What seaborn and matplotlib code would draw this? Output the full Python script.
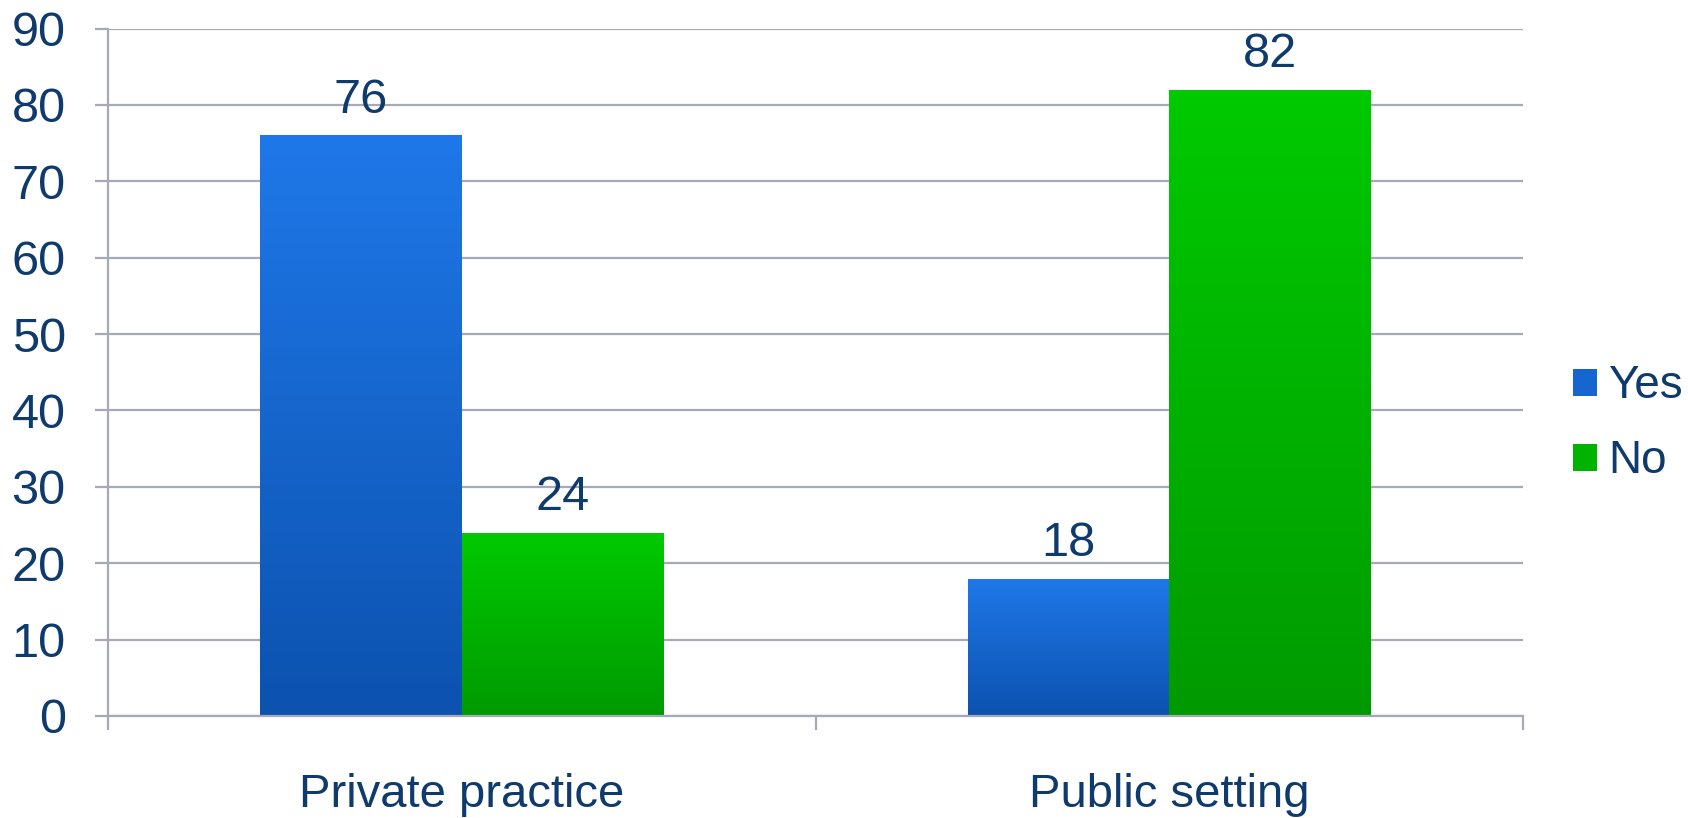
import numpy as np
import pandas as pd
import matplotlib
matplotlib.use("Agg")
import matplotlib.pyplot as plt
import seaborn as sns
from matplotlib.colors import to_rgb
from matplotlib.patches import Patch

# Survey answers by work setting (percent)
settings = ["Private practice", "Public setting"]
answers = ["Yes", "No"]
yes_pct = [76, 18]
no_pct = [24, 82]
y_ticks = [0, 10, 20, 30, 40, 50, 60, 70, 80, 90]

text_color = "#0F3A6C"
grid_color = "#A6A9B8"
top_colors = {"Yes": "#1F78E9", "No": "#00CA00"}
bottom_colors = {"Yes": "#0C52AF", "No": "#009A00"}
mid_colors = {"Yes": "#1766CF", "No": "#00B300"}

df = pd.DataFrame({
    "setting": settings * 2,
    "answer": ["Yes"] * len(settings) + ["No"] * len(settings),
    "percent": yes_pct + no_pct,
})

sns.set_style("white")
plt.rcParams["font.family"] = ["Liberation Sans", "DejaVu Sans"]

fig = plt.figure(figsize=(16.88, 8.18), dpi=100)
ax = fig.add_axes([0.064, 0.1247, 0.8383, 0.8404])

sns.barplot(
    data=df, x="setting", y="percent", hue="answer",
    order=settings, hue_order=answers, palette=mid_colors,
    width=0.57, gap=0, saturation=1, errorbar=None,
    linewidth=0, ax=ax, legend=False,
)

# vertical gradient fill inside each bar
n = 256
for container, answer in zip(ax.containers, answers):
    c_top = np.array(to_rgb(top_colors[answer]))
    c_bot = np.array(to_rgb(bottom_colors[answer]))
    t = np.linspace(0, 1, n)[:, None]
    grad = (c_top[None, :] * (1 - t) + c_bot[None, :] * t)[:, None, :]
    for bar in container:
        x0, w, h = bar.get_x(), bar.get_width(), bar.get_height()
        im = ax.imshow(grad, extent=[x0, x0 + w, 0, h], origin="upper",
                       aspect="auto", interpolation="bilinear",
                       zorder=bar.get_zorder() + 0.1)
        im.set_clip_path(bar)
    ax.bar_label(container, labels=[f"{v:g}" for v in container.datavalues],
                 padding=9, fontsize=35, color=text_color)

ax.set_xlim(-0.5, 1.5)
ax.set_ylim(0, 90)
ax.set_yticks(y_ticks)
ax.set_xlabel("")
ax.set_ylabel("")

ax.set_axisbelow(True)
ax.yaxis.grid(True, color=grid_color, linewidth=1.6)
ax.xaxis.grid(False)

ax.set_xticks([-0.5, 0.5, 1.5], minor=True)
ax.tick_params(axis="x", which="major", bottom=True, length=0, pad=41,
               labelsize=34, labelcolor=text_color)
ax.tick_params(axis="x", which="minor", bottom=True, length=10, width=1.6,
               color=grid_color, direction="out")
ax.tick_params(axis="y", which="major", left=True, length=9.5, width=1.6,
               color=grid_color, pad=21, labelsize=35, labelcolor=text_color,
               direction="out")

for side in ["top", "right"]:
    ax.spines[side].set_visible(False)
for side in ["left", "bottom"]:
    ax.spines[side].set_color(grid_color)
    ax.spines[side].set_linewidth(1.6)

handles = [Patch(facecolor=mid_colors[a], edgecolor="none") for a in answers]
ax.legend(handles, answers, loc="center left", bbox_to_anchor=(1.035, 0.425),
          frameon=False, fontsize=33, handlelength=0.53, handleheight=0.53,
          handletextpad=0.25, labelspacing=0.68, borderaxespad=0, borderpad=0,
          labelcolor=text_color)

fig.savefig("out.png", dpi=100)
